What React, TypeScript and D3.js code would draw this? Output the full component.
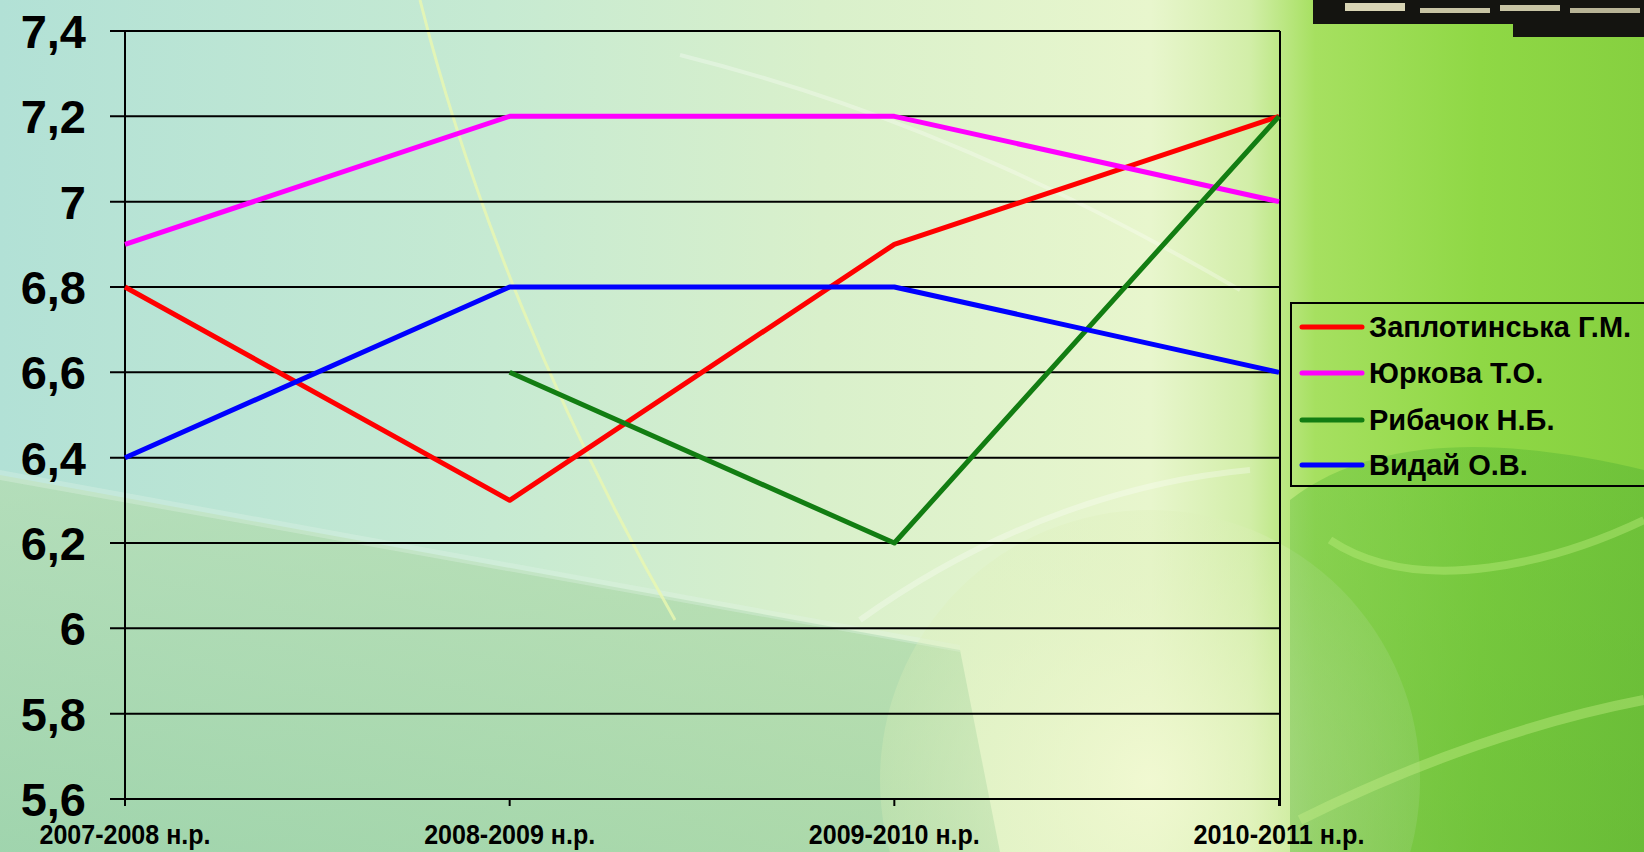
import React from "react";
import * as d3 from "d3";

const categories = ["2007-2008 н.р.", "2008-2009 н.р.", "2009-2010 н.р.", "2010-2011 н.р."];
const seriesNames = ["Заплотинська Г.М.", "Юркова Т.О.", "Рибачок Н.Б.", "Видай О.В."];
const zaplotynska = [6.8, 6.3, 6.9, 7.2];
const yurkova = [6.9, 7.2, 7.2, 7.0];
const rybachok: (number | null)[] = [null, 6.6, 6.2, 7.2];
const vydai = [6.4, 6.8, 6.8, 6.6];
const seriesColors = ["#ff0000", "#ff00ff", "#127d12", "#0000ff"];
const yTicks = [5.6, 5.8, 6.0, 6.2, 6.4, 6.6, 6.8, 7.0, 7.2, 7.4];
const yTickLabels = ["5,6", "5,8", "6", "6,2", "6,4", "6,6", "6,8", "7", "7,2", "7,4"];

const W = 1644;
const H = 852;
const FONT = "'Liberation Sans', Arial, Helvetica, sans-serif";

export default function App() {
  const x = d3.scalePoint<string>().domain(categories).range([125, 1279]);
  const y = d3.scaleLinear().domain([5.6, 7.4]).range([799, 31]);
  const allSeries = [zaplotynska, yurkova, rybachok, vydai];
  const line = d3
    .line<number | null>()
    .defined((d) => d !== null)
    .x((_, i) => x(categories[i]) as number)
    .y((d) => y(d as number));

  const legendX = 1291;
  const legendY = 303;
  const legendRowY = [327, 373, 420, 465];

  return (
    <svg
      width={W}
      height={H}
      style={{ position: "absolute", left: 0, top: 0, display: "block" }}
    >
      <defs>
        <linearGradient id="bg" x1="0" y1="0" x2="1" y2="0">
          <stop offset="0" stopColor="#b2e1d6" />
          <stop offset="0.3" stopColor="#c6ead2" />
          <stop offset="0.5" stopColor="#d9f0cb" />
          <stop offset="0.7" stopColor="#e8f6cd" />
          <stop offset="0.76" stopColor="#d2eea8" />
          <stop offset="0.8" stopColor="#a6e060" />
          <stop offset="0.9" stopColor="#8fd845" />
          <stop offset="1" stopColor="#86d040" />
        </linearGradient>
        <linearGradient id="lowleft" x1="0" y1="0" x2="0" y2="1">
          <stop offset="0" stopColor="#b4dcae" />
          <stop offset="1" stopColor="#98cf9c" />
        </linearGradient>
        <radialGradient id="glow" cx="0.5" cy="0.5" r="0.5">
          <stop offset="0" stopColor="#f2f9d2" stopOpacity="0.85" />
          <stop offset="1" stopColor="#dcefb8" stopOpacity="0.3" />
        </radialGradient>
        <linearGradient id="rightLow" x1="0" y1="0" x2="1" y2="1">
          <stop offset="0" stopColor="#5fbf38" />
          <stop offset="1" stopColor="#3e9e2a" />
        </linearGradient>
      </defs>

      {/* background */}
      <rect x={0} y={0} width={W} height={H} fill="url(#bg)" />
      <path d="M0,475 L960,650 L1000,852 L0,852 Z" fill="url(#lowleft)" opacity={0.7} />
      <path d="M0,470 L960,645 L960,652 L0,480 Z" fill="#e6f6ea" opacity={0.3} />
      <circle cx={1150} cy={780} r={270} fill="url(#glow)" />
      <path
        d="M1290,500 C1380,430 1520,440 1644,470 L1644,852 L1290,852 Z"
        fill="url(#rightLow)"
        opacity={0.4}
      />
      <path
        d="M1330,540 C1420,600 1560,560 1644,520"
        fill="none"
        stroke="#b8ea7a"
        strokeWidth={8}
        opacity={0.45}
      />
      <path
        d="M1300,820 C1420,760 1540,720 1644,700"
        fill="none"
        stroke="#c8ef8a"
        strokeWidth={10}
        opacity={0.4}
      />
      <path
        d="M420,0 C470,200 560,420 675,620"
        fill="none"
        stroke="#eaf8b0"
        strokeWidth={3}
        opacity={0.8}
      />
      <path
        d="M680,55 C820,90 1000,150 1240,290"
        fill="none"
        stroke="#ffffff"
        strokeWidth={4}
        opacity={0.3}
      />
      <path
        d="M860,620 C1000,520 1140,480 1250,470"
        fill="none"
        stroke="#ffffff"
        strokeWidth={6}
        opacity={0.3}
      />

      {/* top-right picture fragment */}
      <rect x={1313} y={0} width={331} height={24} fill="#141410" />
      <rect x={1513} y={0} width={131} height={37} fill="#141410" />
      <rect x={1345} y={3} width={60} height={8} fill="#d8d4b4" />
      <rect x={1420} y={8} width={70} height={5} fill="#c8c4a4" />
      <rect x={1500} y={5} width={60} height={6} fill="#c8c4a4" />
      <rect x={1570} y={8} width={70} height={5} fill="#b8b496" />

      {/* gridlines + left tick marks */}
      {yTicks.map((t) => (
        <line
          key={"g" + t}
          x1={110}
          x2={1280}
          y1={y(t)}
          y2={y(t)}
          stroke="#000"
          strokeWidth={2}
        />
      ))}
      {/* axes */}
      <line x1={125} x2={125} y1={y(7.4)} y2={806} stroke="#000" strokeWidth={2} />
      <line x1={1280} x2={1280} y1={y(7.4)} y2={806} stroke="#000" strokeWidth={2} />
      {categories.map((c) => (
        <line
          key={"xt" + c}
          x1={x(c)}
          x2={x(c)}
          y1={799}
          y2={806}
          stroke="#000"
          strokeWidth={2}
        />
      ))}

      {/* y labels */}
      {yTicks.map((t, i) => (
        <text
          key={"yl" + t}
          x={86}
          y={y(t) + 17}
          textAnchor="end"
          fontFamily={FONT}
          fontWeight="bold"
          fontSize={47}
          fill="#000"
        >
          {yTickLabels[i]}
        </text>
      ))}

      {/* x labels */}
      {categories.map((c) => (
        <text
          key={"xl" + c}
          x={x(c)}
          y={844}
          textAnchor="middle"
          fontFamily={FONT}
          fontWeight="bold"
          fontSize={28}
          textLength={171}
          lengthAdjust="spacingAndGlyphs"
          fill="#000"
        >
          {c}
        </text>
      ))}

      {/* series lines */}
      {allSeries.map((s, i) => (
        <path
          key={"s" + i}
          d={line(s) || ""}
          fill="none"
          stroke={seriesColors[i]}
          strokeWidth={5}
          strokeLinejoin="round"
        />
      ))}

      {/* legend */}
      <rect
        x={legendX}
        y={legendY}
        width={420}
        height={183}
        fill="none"
        stroke="#000"
        strokeWidth={2}
      />
      {seriesNames.map((n, i) => (
        <g key={"lg" + i}>
          <line
            x1={1302}
            x2={1362}
            y1={legendRowY[i]}
            y2={legendRowY[i]}
            stroke={seriesColors[i]}
            strokeWidth={5}
            strokeLinecap="round"
          />
          <text
            x={1369}
            y={legendRowY[i] + 10}
            fontFamily={FONT}
            fontWeight="bold"
            fontSize={29}
            fill="#000"
          >
            {n}
          </text>
        </g>
      ))}
    </svg>
  );
}
